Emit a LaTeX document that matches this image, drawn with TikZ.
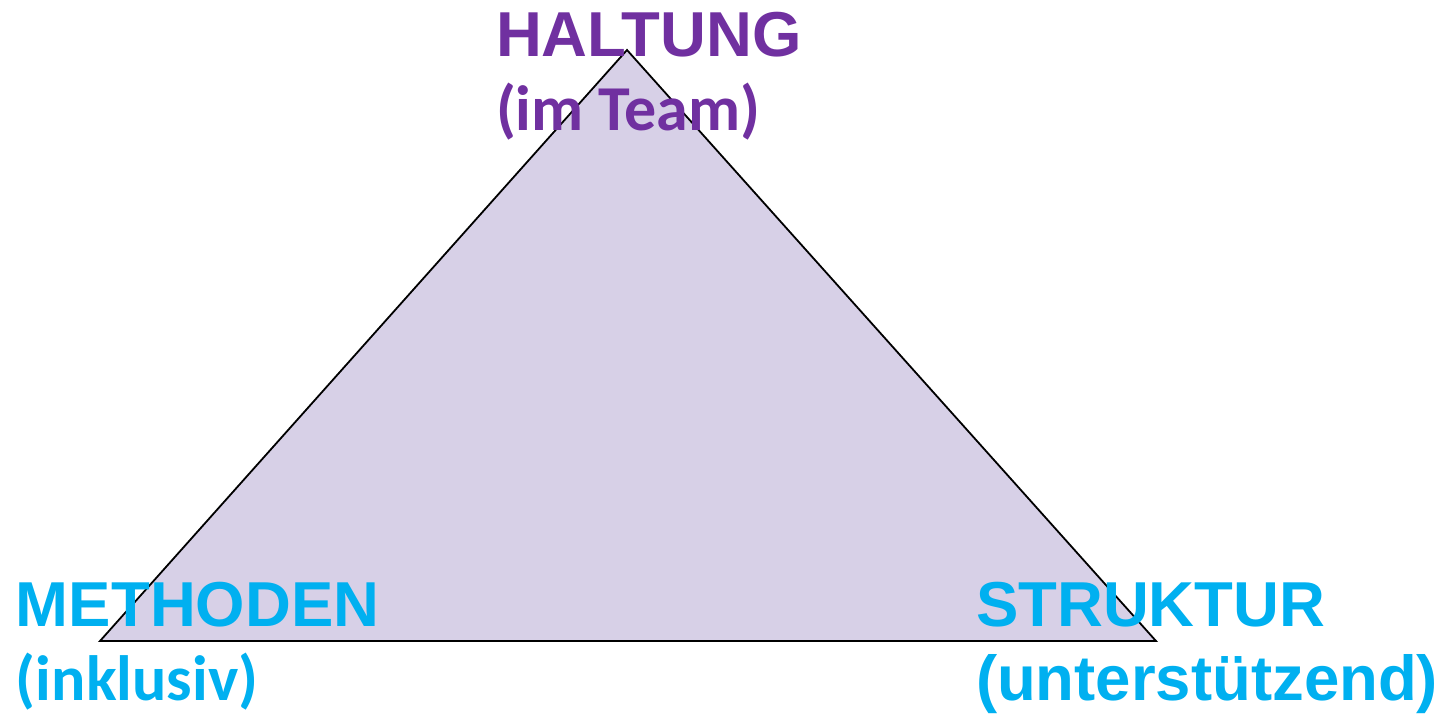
\documentclass[tikz,border=0pt]{standalone}
\usepackage{fontspec}
\setmainfont{Liberation Sans}
\newfontfamily\carl{Carlito}
\definecolor{hpurple}{HTML}{7030A0}
\definecolor{hcyan}{HTML}{00B0F0}
\definecolor{tfill}{HTML}{D7D0E7}
\begin{document}
\begin{tikzpicture}[x=1pt,y=-1pt,
  lbl/.style={inner sep=0pt, outer sep=0pt, align=left, anchor=base west,
    font=\fontsize{63.5}{74}\selectfont\bfseries}]
\useasboundingbox (0,0) rectangle (1454,716);
\coordinate (top) at (627,50);
\coordinate (bl) at (100,641);
\coordinate (br) at (1156,641);
\filldraw[fill=tfill, draw=black, line width=1.8pt, line join=miter] (top) -- (bl) -- (br) -- cycle;
\node[lbl, text=hpurple] (haltung) at (496,130) {HALTUNG\\{\carl\fontsize{64}{74}\selectfont(im Team)}};
\node[lbl, text=hcyan] (methoden) at (16,700) {METHODEN\\{\carl\fontsize{64}{74}\selectfont(inklusiv)}};
\node[lbl, text=hcyan] (struktur) at (976,700) {STRUKTUR\\(unterstützend)};
\end{tikzpicture}
\end{document}
